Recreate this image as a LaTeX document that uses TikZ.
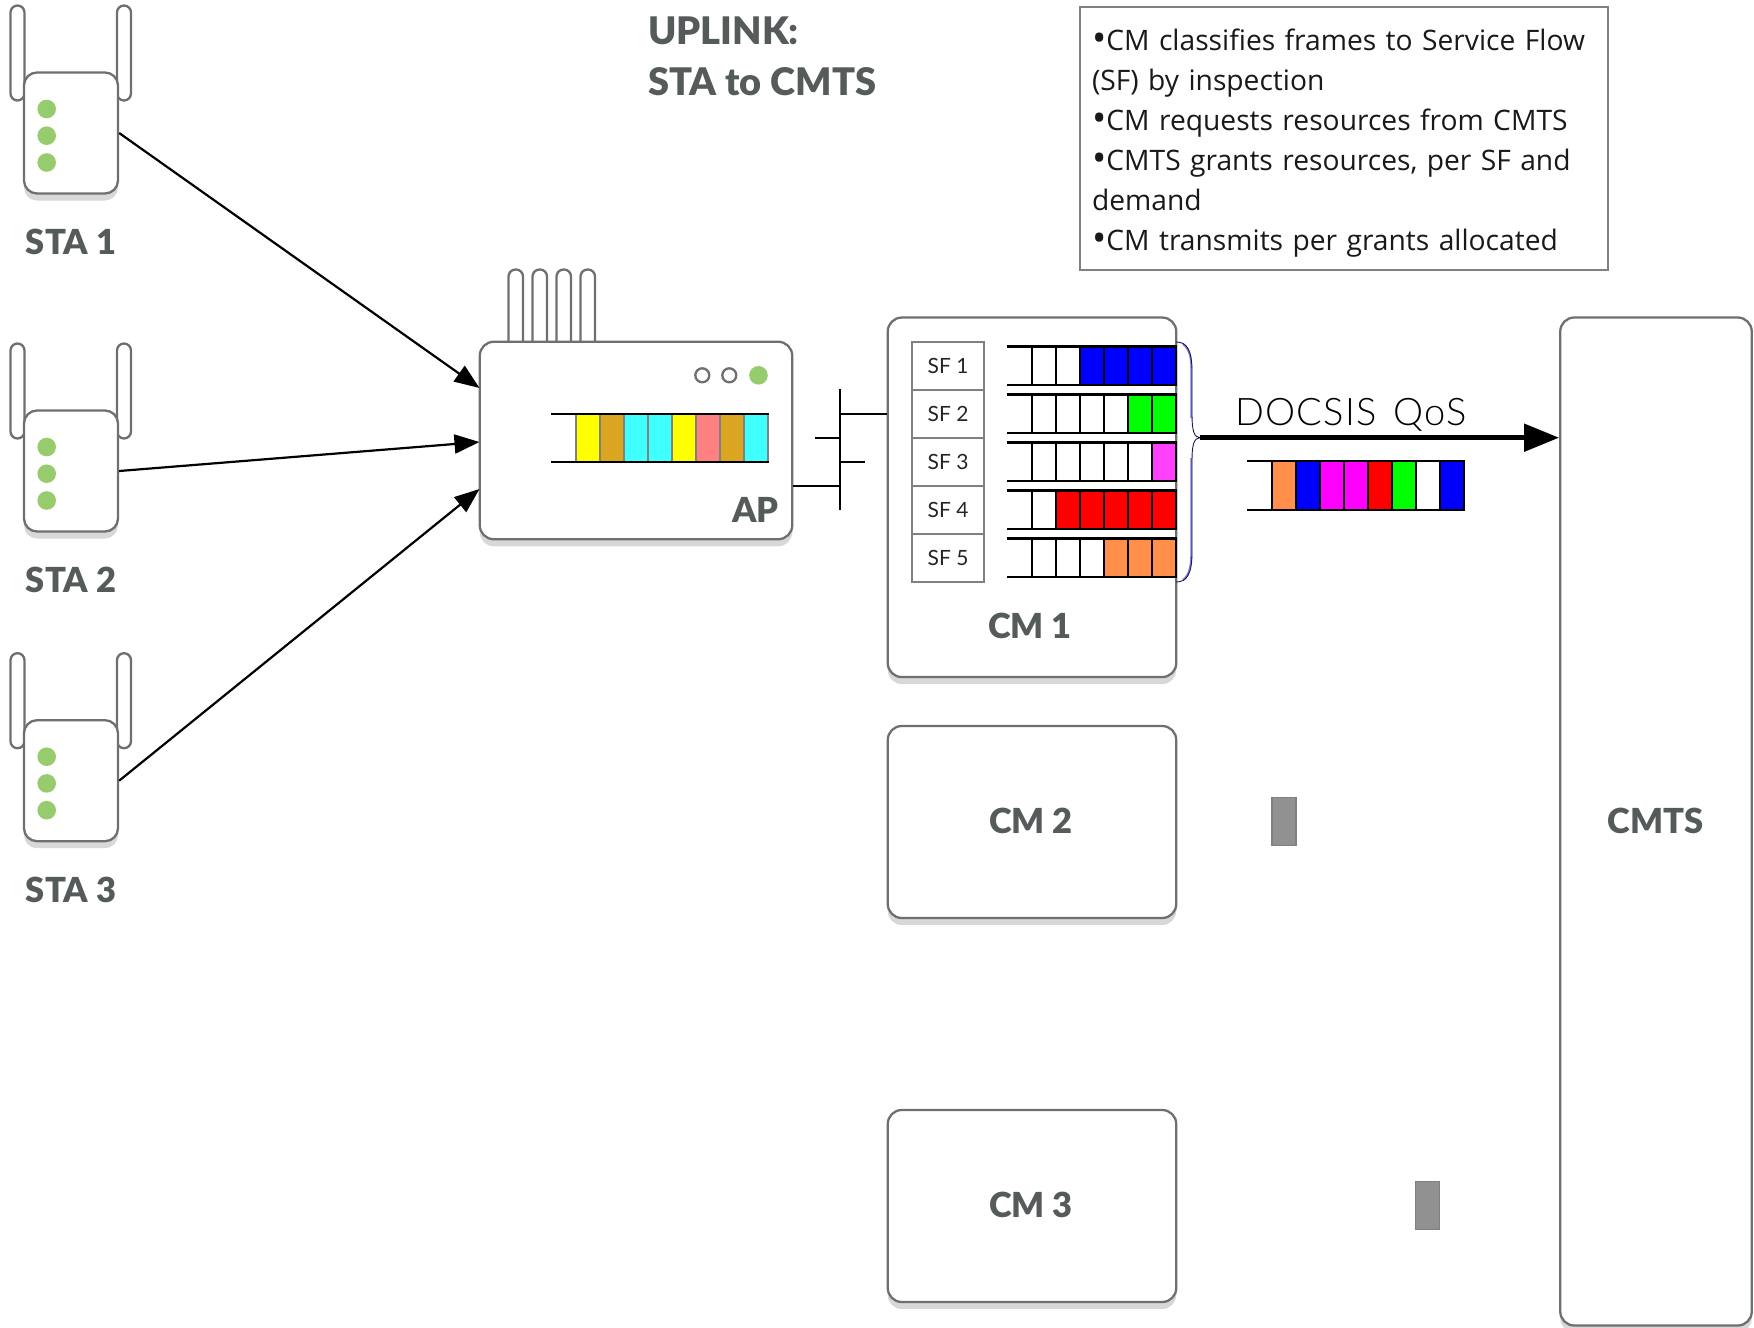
\documentclass[tikz,border=0pt]{standalone}
\usepackage{fontspec}
\setmainfont{Lato}
\newfontfamily\boxfont{Open Sans}
\newfontfamily\heavyfont{Lato Black}
\newfontfamily\lightfont{Lato Light}[LetterSpace=3]
\usetikzlibrary{arrows.meta,shadows}
\definecolor{edgegray}{HTML}{6E7070}
\definecolor{labelgray}{HTML}{555A5B}
\definecolor{ledgreen}{HTML}{96CC6E}
\definecolor{cellgray}{HTML}{808080}
\definecolor{qyellow}{HTML}{FFFF00}
\definecolor{qgold}{HTML}{DAA520}
\definecolor{qcyan}{HTML}{40FFFF}
\definecolor{qpink}{HTML}{FF8080}
\definecolor{qblue}{HTML}{0000FF}
\definecolor{qgreen}{HTML}{00FF00}
\definecolor{qmag}{HTML}{FF40FF}
\definecolor{qmagb}{HTML}{FF00FF}
\definecolor{qred}{HTML}{FF0000}
\definecolor{qorange}{HTML}{FF8F4A}
\definecolor{bracelight}{HTML}{7C7CE0}
\definecolor{bracedark}{HTML}{1A1A50}
\tikzset{
  device/.style={draw=edgegray,line width=2.3pt,fill=white,rounded corners=#1,inner sep=0pt,
    drop shadow={shadow xshift=0pt,shadow yshift=-7pt,fill=black!20,opacity=.75}},
  antenna/.style={draw=edgegray,line width=2.3pt,fill=white,rounded corners=7pt},
  led/.style={circle,fill=ledgreen,minimum size=18.6pt,inner sep=0pt},
  ledoff/.style={circle,draw=edgegray,line width=2.3pt,fill=white,minimum size=14pt,inner sep=0pt},
  biglabel/.style={font=\heavyfont\fontsize{34.5}{38}\selectfont,text=labelgray,inner sep=0pt},
  titlelabel/.style={anchor=west,inner sep=0pt,font=\heavyfont\fontsize{38}{40}\selectfont,text=labelgray},
  sfbox/.style={draw=cellgray,line width=2pt,fill=white,minimum width=72.6pt,minimum height=48pt,inner sep=0pt,
    font=\fontsize{21}{24}\selectfont,text=black!85},
  wire/.style={draw=black,line width=2pt},
  radio/.style={draw=black,line width=2.2pt,-{Triangle[length=25pt,width=19pt]}},
  grant/.style={draw=cellgray,line width=1.5pt,fill=black!43,minimum width=24pt,minimum height=48pt,inner sep=0pt}
}
\newcommand{\qcells}[6]{% x0, ytop, ybot, cell width, line colour, colours
  \foreach \c [count=\i from 0] in {#6}{
    \filldraw[fill=\c,draw=#5,line width=2.2pt] ({#1+\i*#4},#2) rectangle ({#1+(\i+1)*#4},#3);
  }
}
\newcommand{\notebullet}{\smash{\fontsize{38}{40}\selectfont\raisebox{-.04em}{•}}}
\begin{document}
\begin{tikzpicture}[x=1pt,y=-1pt]
\useasboundingbox (0,0) rectangle (1754,1328);
\fill[white] (0,0) rectangle (1754,1328);

% stations
\foreach \n/\d in {1/0.5,2/338.5,3/648.2}{
  \draw[antenna] (10.5,{5+\d}) rectangle (24.5,{100+\d});
  \draw[antenna] (117,{5+\d}) rectangle (131,{100+\d});
  \node[device=13pt,minimum width=94pt,minimum height=121pt] (sta\n) at (71,{132.5+\d}) {};
  \node[led] (sta\n a) at (46.7,{108.5+\d}) {};
  \node[led] (sta\n b) at (46.7,{135.2+\d}) {};
  \node[led] (sta\n c) at (46.7,{162+\d}) {};
  \node[biglabel] (sta\n l) at (71,{241.5+\d}) {STA \n};
}

% access point
\foreach \x in {508.5,532.5,556.5,580.5}{
  \draw[antenna] (\x,269.5) rectangle ({\x+14.5},360);
}
\node[device=14pt,minimum width=312.5pt,minimum height=197.5pt] (ap) at (636,440.5) {};
\node[ledoff] (led1) at (702.3,375.3) {};
\node[ledoff] (led2) at (729.3,375.3) {};
\node[led] (led3) at (758.5,375.3) {};
\qcells{576}{413.7}{461.7}{24}{cellgray}{qyellow,qgold,qcyan,qcyan,qyellow,qpink,qgold,qcyan}
\draw[black,line width=2.2pt] (551,413.7) -- (769,413.7) (551,461.7) -- (769,461.7);
\node[biglabel] (aplabel) at (755.5,510) {AP};

\coordinate (apinA) at (479.5,388);
\coordinate (apinB) at (479.5,442);
\coordinate (apinC) at (479.5,489);
\draw[radio] (sta1.east) -- (apinA);
\draw[radio] (sta2.east) -- (apinB);
\draw[radio] (sta3.east) -- (apinC);

% cable modems
\node[device=14pt,minimum width=288.5pt,minimum height=359.5pt] (cm1) at (1032,497.3) {};
\node[device=14pt,minimum width=288.5pt,minimum height=192pt] (cm2) at (1032,822) {};
\node[device=14pt,minimum width=288.5pt,minimum height=192pt] (cm3) at (1032,1206) {};
\node[device=14pt,minimum width=191.5pt,minimum height=1008pt] (cmts) at (1656,821.5) {};
\node[biglabel] (cm1l) at (1030,625.5) {CM 1};
\node[biglabel] (cm2l) at (1031,820.5) {CM 2};
\node[biglabel] (cm3l) at (1031,1204.5) {CM 3};
\node[biglabel] (cmtsl) at (1655.5,820.5) {CMTS};

% bus between AP and CM 1
\coordinate (busT) at (839.7,389);
\coordinate (busB) at (839.7,510);
\coordinate (stubL) at (814.7,438);
\coordinate (stubR) at (865,461.7);
\draw[wire] (busT) -- (busB);
\draw[wire] (busT |- cm1.west |- 0,413.7) -- (cm1.west |- 0,413.7);
\draw[wire] (stubL) -- (busT |- stubL);
\draw[wire] (busT |- stubR) -- (stubR);
\draw[wire] (ap.east |- 0,486) -- (busT |- 0,486);

% service flows
\foreach \n in {1,...,5}{
  \node[sfbox] (sf\n) at (948,{317.7+48*\n-0.0}) {SF \n};
}
\foreach \r/\cols in {0/{white,white,qblue,qblue,qblue,qblue},
                      1/{white,white,white,white,qgreen,qgreen},
                      2/{white,white,white,white,white,qmag},
                      3/{white,qred,qred,qred,qred,qred},
                      4/{white,white,white,qorange,qorange,qorange}}{
  \pgfmathsetmacro{\yt}{346.3+48*\r}
  \pgfmathsetmacro{\yb}{385+48*\r}
  \begin{scope}
  \edef\tmp{\noexpand\qcells{1032}{\yt}{\yb}{24}{black}{\cols}}\tmp
  \end{scope}
  \draw[black,line width=2.4pt] (1007,\yt) -- (1176,\yt) (1007,\yb) -- (1176,\yb);
}

% brace
\coordinate (braceT) at (1176,342);
\coordinate (braceB) at (1176,582);
\coordinate (braceTip) at (1200,437.7);
\draw[bracelight,line width=1.8pt] (1183,344) .. controls (1190,350) and (1191.3,358) .. (1191.3,370) -- (1191.3,418);
\draw[bracelight,line width=1.8pt] (1191.3,458) -- (1191.3,550) .. controls (1191.3,565) and (1190,574) .. (1183,580);
\draw[bracedark,line width=.9pt] (braceT) .. controls (1187,342) and (1192,350) .. (1192,372) -- (1192,415) .. controls (1192,430) and (1194,437.7) .. (braceTip)
  .. controls (1194,437.7) and (1192,445) .. (1192,460) -- (1192,552) .. controls (1192,574) and (1187,582) .. (braceB);

% DOCSIS link
\draw[black,line width=5pt,-{Triangle[length=35pt,width=27pt]}] (braceTip) -- (cmts.west |- braceTip);
\node[inner sep=0pt,font=\lightfont\fontsize{38}{40}\selectfont,text=black] (docsis) at (1351,414.5) {DOCSIS\hspace{.45em}QoS};
\qcells{1271.7}{461}{510}{24}{black}{qorange,qblue,qmagb,qmagb,qred,qgreen,white,qblue}
\draw[black,line width=2.2pt] (1247,461) -- (1463.7,461) (1247,510) -- (1463.7,510);

% grants in flight
\node[grant] (g1) at (1284,821.7) {};
\node[grant] (g2) at (1427.3,1205.5) {};

% titles
\node[titlelabel] (t1) at (648,30.5) {UPLINK:};
\node[titlelabel] (t2) at (648,81.5) {STA to CMTS};

% notes box
\node[draw=cellgray,line width=2.2pt,fill=white,anchor=north west,minimum width=528pt,minimum height=263.6pt,inner sep=0pt] (notes) at (1079,5.6) {};
\node[text width=504pt,inner sep=0pt,align=left,yshift=-4.5pt,
      font=\boxfont\fontsize{28.2}{40}\selectfont,text=black!90] (notestext) at (notes.center)
  {\notebullet CM classifies frames to Service Flow\\
   (SF) by inspection\\
   \notebullet CM requests resources from CMTS\\
   \notebullet CMTS grants resources, per SF and\\
   demand\\
   \notebullet CM transmits per grants allocated};
\end{tikzpicture}
\end{document}
